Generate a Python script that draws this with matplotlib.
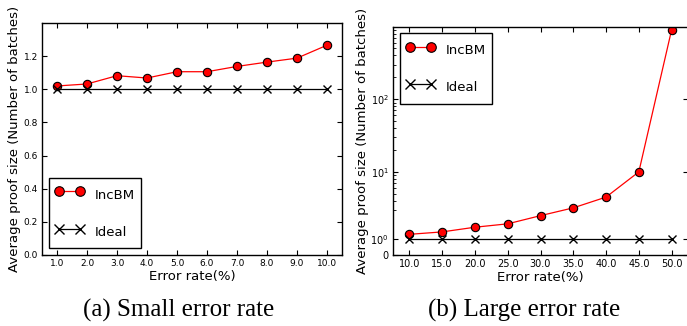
import matplotlib
matplotlib.use("Agg")
import matplotlib.pyplot as plt
from matplotlib.ticker import FixedLocator, NullFormatter

# (a) small error rate
small_rates = [1.0, 2.0, 3.0, 4.0, 5.0, 6.0, 7.0, 8.0, 9.0, 10.0]
small_incbm = [1.02, 1.032, 1.082, 1.068, 1.106, 1.106, 1.138, 1.164, 1.188, 1.266]
small_ideal = [1.0] * 10

# (b) large error rate
large_rates = [10.0, 15.0, 20.0, 25.0, 30.0, 35.0, 40.0, 45.0, 50.0]
large_incbm = [1.28, 1.43, 1.72, 1.93, 2.5, 3.2, 4.5, 10.0, 900.0]
large_ideal = [1.0] * 9

captions = ["(a) Small error rate", "(b) Large error rate"]


def style_axes(ax, size):
    ax.tick_params(which="both", direction="in", top=True, right=True,
                   labelsize=size, pad=3)
    ax.tick_params(which="major", length=3.5, width=0.8)
    ax.tick_params(which="minor", length=2, width=0.6)
    for s in ax.spines.values():
        s.set_linewidth(1.0)


def draw(ax, x, inc, ideal):
    ax.plot(x, inc, "-o", color="red", lw=0.9, ms=6, mfc="red",
            mec="black", mew=0.8, label="IncBM")
    ax.plot(x, ideal, "-x", color="black", lw=0.9, ms=6, mew=1.0,
            label="Ideal")


def add_legend(ax, loc):
    ax.legend(loc=loc, fontsize=9.5, numpoints=2, handlelength=2.2,
              handleheight=2.0, handletextpad=0.8, labelspacing=1.3,
              borderpad=0.48, borderaxespad=0.5, markerscale=1.15,
              fancybox=False, framealpha=1, edgecolor="black")


fig = plt.figure(figsize=(6.87, 3.26), dpi=100)

ax1 = fig.add_axes([42 / 687, 1 - 255 / 326, 300 / 687, 232 / 326])
draw(ax1, small_rates, small_incbm, small_ideal)
ax1.set_xlim(0.5, 10.5)
ax1.set_ylim(0, 1.4)
ax1.set_xticks(small_rates)
ax1.set_xticklabels(["%.1f" % v for v in small_rates])
ax1.set_yticks([0.0, 0.2, 0.4, 0.6, 0.8, 1.0, 1.2])
style_axes(ax1, 6.5)
ax1.set_xlabel("Error rate(%)", fontsize=9.5, labelpad=1)
ax1.set_ylabel("Average proof size (Number of batches)", fontsize=9.5, labelpad=2)
add_legend(ax1, "lower left")

ax2 = fig.add_axes([393 / 687, 1 - 255 / 326, 295 / 687, 228.5 / 326])
draw(ax2, large_rates, large_incbm, large_ideal)
ax2.set_yscale("symlog", linthresh=2, linscale=0.4)
ax2.set_xlim(7.5, 52.5)
ax2.set_ylim(0, 1000)
ax2.set_xticks(large_rates)
ax2.set_xticklabels(["%.1f" % v for v in large_rates])
ax2.set_yticks([0, 1, 10, 100])
ax2.set_yticklabels(["0", "$10^0$", "$10^1$", "$10^2$"])
minors = [m * d for d in (1, 10, 100) for m in range(2, 10) if m * d > 2]
ax2.yaxis.set_minor_locator(FixedLocator(minors))
ax2.yaxis.set_minor_formatter(NullFormatter())
style_axes(ax2, 7)
ax2.tick_params(axis="y", which="minor", right=False)
ax2.set_xlabel("Error rate(%)", fontsize=9.5, labelpad=1)
ax2.set_ylabel("Average proof size (Number of batches)", fontsize=9.5, labelpad=1)
add_legend(ax2, "upper left")

fig.text(179 / 687, 1 - 316.5 / 326, captions[0], ha="center", va="baseline",
         family="Liberation Serif", fontsize=18)
fig.text(524 / 687, 1 - 316.5 / 326, captions[1], ha="center", va="baseline",
         family="Liberation Serif", fontsize=18)

fig.savefig("out.png", dpi=100)
